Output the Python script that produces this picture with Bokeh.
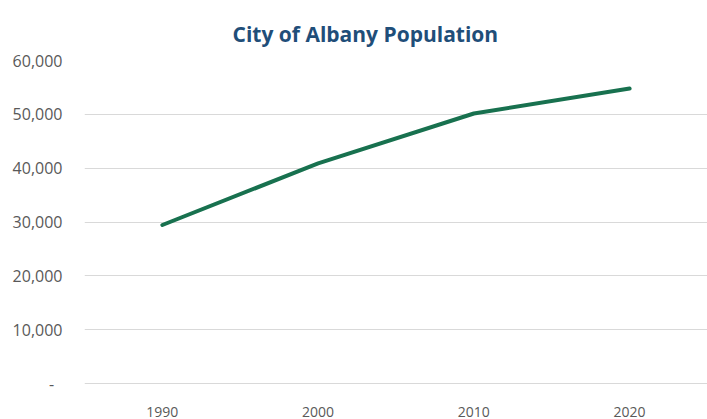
from bokeh.plotting import figure
from bokeh.models import Range1d, FixedTicker, NumeralTickFormatter, Title
from bokeh.embed import file_html
from bokeh.resources import INLINE

years = [1990, 2000, 2010, 2020]
population = [29462, 40900, 50158, 54800]
y_ticks = [0, 10000, 20000, 30000, 40000, 50000, 60000]
title_text = "City of Albany Population"

p = figure(width=707, height=419, output_backend="svg", toolbar_location=None,
           x_range=Range1d(1985.0, 2025.0), y_range=Range1d(-150, 60000),
           min_border_left=84, min_border_right=0, min_border_top=60, min_border_bottom=33)
p.title = None
t = Title(text=title_text, align="left", offset=148,
          text_font="Open Sans", text_font_size="21px", text_font_style="bold",
          text_color="#1f4e79", standoff=26)
p.add_layout(t, "above")
p.outline_line_color = None
p.background_fill_color = "white"
p.border_fill_color = "white"

p.line(years, population, line_color="#18714f", line_width=4, line_cap="round")

p.xaxis.ticker = FixedTicker(ticks=years)
p.yaxis.ticker = FixedTicker(ticks=y_ticks)
p.yaxis.formatter = NumeralTickFormatter(format="0,0")
p.yaxis.major_label_overrides = {0: "-  "}
for ax in (p.xaxis[0], p.yaxis[0]):
    ax.axis_line_color = None
    ax.major_tick_line_color = None
    ax.minor_tick_line_color = None
    ax.major_label_text_font = "Open Sans"
    ax.major_label_text_color = "#595959"
p.yaxis.major_label_text_font_size = "16px"
p.xaxis.major_label_text_font_size = "14px"
p.yaxis.major_label_standoff = 16
p.xaxis.major_label_standoff = 16
p.xgrid.grid_line_color = None
p.ygrid.grid_line_color = "#d9d9d9"
p.ygrid.grid_line_width = 1

open("out.html", "w").write(file_html(p, INLINE))
